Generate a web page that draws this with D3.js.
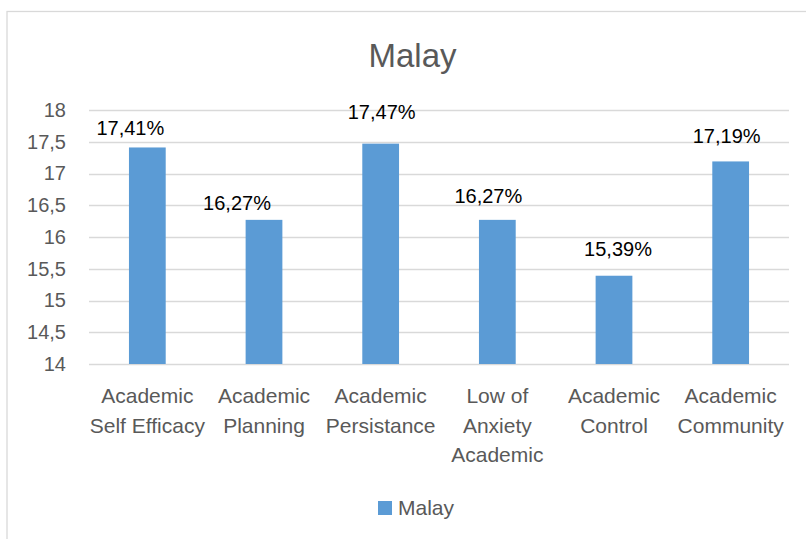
<!DOCTYPE html>
<html>
<head>
<meta charset="utf-8">
<script src="https://cdn.jsdelivr.net/npm/d3@7"></script>
<style>
  html, body { margin: 0; padding: 0; background: #fff; }
  svg { display: block; font-family: "Liberation Sans", Arial, sans-serif; }
</style>
</head>
<body>
<svg id="chart"></svg>
<script>
// data
var categories = ["Academic Self Efficacy", "Academic Planning", "Academic Persistance",
                  "Low of Anxiety Academic", "Academic Control", "Academic Community"];
var malay = [17.41, 16.27, 17.47, 16.27, 15.39, 17.19];
var yTicks = [14, 14.5, 15, 15.5, 16, 16.5, 17, 17.5, 18];
var seriesName = "Malay";

// hand placed data labels in the original: [dx from bar centre, gap above bar]
var labelNudge = [[-17, 12], [-27, 10], [1, 25], [-9, 17], [4, 20], [-4, 18]];

var width = 806,
    height = 539;

var margin = {top: 110, right: 17, bottom: 175, left: 89},
    innerwidth = width - margin.left - margin.right,
    innerheight = height - margin.top - margin.bottom;

var comma = function(v) { return String(v).replace(".", ","); };

var svg = d3.select("#chart")
    .attr("width", width)
    .attr("height", height);

// chart area border (runs off the right and bottom of the picture)
svg.append("rect")
    .attr("x", 7)
    .attr("y", 11.5)
    .attr("width", 900)
    .attr("height", 700)
    .attr("fill", "none")
    .attr("stroke", "#d9d9d9")
    .attr("stroke-width", 1.3);

svg.append("text")
    .attr("x", 412.5)
    .attr("y", 67)
    .attr("text-anchor", "middle")
    .attr("font-size", 33)
    .attr("fill", "#595959")
    .text(seriesName);

var g = svg.append("g")
    .attr("transform", "translate(" + margin.left + "," + margin.top + ")");

var x = d3.scaleBand()
    .domain(categories)
    .range([0, innerwidth])
    .paddingInner(0.685)
    .paddingOuter(0.3425);

var y = d3.scaleLinear()
    .domain([14, 18])
    .range([innerheight, 0]);

// gridlines
g.append("g")
    .selectAll("line")
    .data(yTicks)
    .enter().append("line")
    .attr("x1", 0)
    .attr("x2", innerwidth)
    .attr("y1", function(d) { return Math.round(y(d)) + 0.5; })
    .attr("y2", function(d) { return Math.round(y(d)) + 0.5; })
    .attr("stroke", "#d9d9d9")
    .attr("stroke-width", 1.3);

// y axis labels
var yAxis = g.append("g")
    .attr("transform", "translate(-23,0)")
    .call(d3.axisLeft(y).tickValues(yTicks).tickFormat(comma).tickSize(0).tickPadding(0));
yAxis.select(".domain").remove();
yAxis.selectAll("text")
    .attr("font-family", "Liberation Sans, Arial, sans-serif")
    .attr("font-size", 20)
    .attr("fill", "#595959");

// bars
g.selectAll(".bar")
    .data(malay)
    .enter().append("rect")
    .attr("class", "bar")
    .attr("x", function(d, i) { return x(categories[i]); })
    .attr("y", function(d) { return y(d); })
    .attr("width", x.bandwidth())
    .attr("height", function(d) { return innerheight - y(d); })
    .attr("fill", "#5b9bd5");

// data labels
g.selectAll(".label")
    .data(malay)
    .enter().append("text")
    .attr("class", "label")
    .attr("x", function(d, i) { return x(categories[i]) + x.bandwidth() / 2 + labelNudge[i][0]; })
    .attr("y", function(d, i) { return y(d) - labelNudge[i][1]; })
    .attr("text-anchor", "middle")
    .attr("font-size", 20)
    .attr("fill", "#000")
    .text(function(d) { return comma(d.toFixed(2)) + "%"; });

// category labels, wrapped to the band width like Excel does
var cat = g.selectAll(".cat")
    .data(categories)
    .enter().append("text")
    .attr("class", "cat")
    .attr("x", function(d) { return x(d) + x.bandwidth() / 2; })
    .attr("y", innerheight + 39)
    .attr("text-anchor", "middle")
    .attr("font-size", 21)
    .attr("fill", "#595959");

cat.each(function(d) {
    var text = d3.select(this),
        words = d.split(" "),
        maxw = x.step() + 1,
        line = [],
        lineNo = 0,
        tspan = text.append("tspan").attr("x", text.attr("x")).attr("dy", 0);
    words.forEach(function(w) {
        line.push(w);
        tspan.text(line.join(" "));
        if (tspan.node().getComputedTextLength() > maxw && line.length > 1) {
            line.pop();
            tspan.text(line.join(" "));
            line = [w];
            lineNo++;
            tspan = text.append("tspan").attr("x", text.attr("x")).attr("dy", 29.5).text(w);
        }
    });
});

// legend
var legend = svg.append("g")
    .attr("transform", "translate(378,501)");
legend.append("rect")
    .attr("width", 14)
    .attr("height", 14)
    .attr("fill", "#5b9bd5");
legend.append("text")
    .attr("x", 20)
    .attr("y", 14)
    .attr("font-size", 21)
    .attr("fill", "#595959")
    .text(seriesName);
</script>
</body>
</html>
